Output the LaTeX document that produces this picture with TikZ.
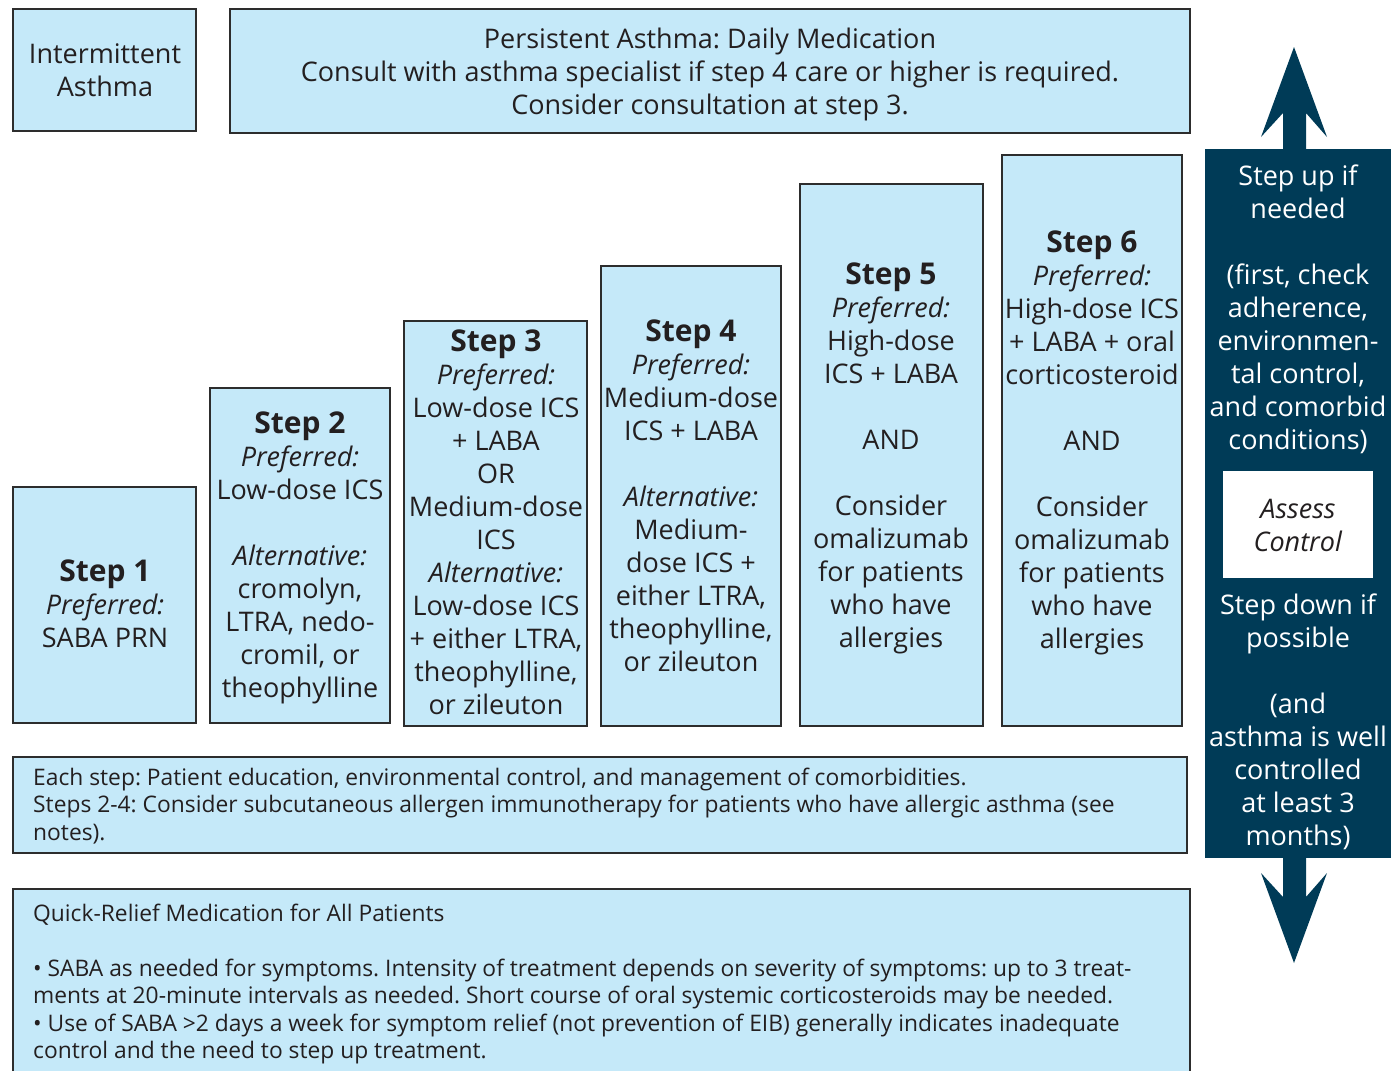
\documentclass[tikz,border=0pt]{standalone}
\usepackage{fontspec}
\setmainfont{Open Sans}
\definecolor{lightb}{RGB}{197,233,249}
\definecolor{darkb}{RGB}{0,59,87}
\definecolor{bordc}{RGB}{45,45,45}
\definecolor{textc}{RGB}{35,31,32}
\newcommand{\mystra}{\rule{0pt}{21pt}}
\newcommand{\mystrb}{\rule{0pt}{23pt}}
\newcommand{\mystrc}{\rule{0pt}{18pt}}
\newcommand{\ttl}[1]{\mystrb{\bfseries\fontsize{30}{33}\selectfont #1}}
\tikzset{
  box/.style={draw=bordc, line width=2pt, fill=lightb, inner sep=0pt, outer sep=0pt, anchor=north west},
  txt/.style={align=center, inner sep=0pt, anchor=north, text=textc, font={\fontsize{27}{33}\selectfont}},
  wtxt/.style={txt, text=white},
  smalltxt/.style={align=left, inner sep=0pt, anchor=north west, text=textc, font={\fontsize{22.8}{27.5}\selectfont}},
}
\begin{document}
\frenchspacing
\begin{tikzpicture}[x=1pt,y=-1pt]
\useasboundingbox (0,0) rectangle (1393,1071);
% boxes
\node[box, minimum width=183pt, minimum height=122pt] (inter) at (13,9) {};
\node[box, minimum width=960pt, minimum height=124pt] (pers) at (230,9) {};
\node[box, minimum width=183pt, minimum height=236pt] (s1) at (13,487) {};
\node[box, minimum width=180pt, minimum height=335pt] (s2) at (210,388) {};
\node[box, minimum width=183pt, minimum height=405pt] (s3) at (404,321) {};
\node[box, minimum width=180pt, minimum height=460pt] (s4) at (601,266) {};
\node[box, minimum width=183pt, minimum height=542pt] (s5) at (800,184) {};
\node[box, minimum width=180pt, minimum height=571pt] (s6) at (1002,155) {};
\node[box, minimum width=1174pt, minimum height=96pt] (each) at (13,757) {};
\node[box, minimum width=1177pt, minimum height=200pt] (quick) at (13,889) {};
% right panel
\node[fill=darkb, inner sep=0pt, outer sep=0pt, anchor=north west, minimum width=186pt, minimum height=709pt] (panel) at (1205,149) {};
\node[fill=white, inner sep=0pt, outer sep=0pt, anchor=north west, minimum width=150pt, minimum height=107pt] (assess) at (1223,471) {};
\fill[darkb] (1283,149) -- (1283,113) -- (1261,137) -- (1294,47) -- (1327,137) -- (1306,113) -- (1306,149) -- cycle;
\fill[darkb] (1283,858) -- (1283,897) -- (1261,873) -- (1294,963) -- (1327,873) -- (1306,897) -- (1306,858) -- cycle;
% texts
\node[txt] (interT) at (105,42) {\mystra Intermittent\\Asthma};
\node[txt] (persT) at (710,27) {\mystra Persistent Asthma: Daily Medication\\Consult with asthma specialist if step 4 care or higher is required.\\Consider consultation at step 3.};
\node[txt] (s1T) at (105,558) {\ttl{Step 1}\\\textit{Preferred:}\\SABA PRN};
\node[txt] (s2T) at (300,410) {\ttl{Step 2}\\\textit{Preferred:}\\Low-dose ICS\\[33pt]\textit{Alternative:}\\cromolyn,\\LTRA, nedo-\\cromil, or\\theophylline};
\node[txt] (s3T) at (496,328) {\ttl{Step 3}\\\textit{Preferred:}\\Low-dose ICS\\+ LABA\\OR\\Medium-dose\\ICS\\\textit{Alternative:}\\Low-dose ICS\\+ either LTRA,\\theophylline,\\or zileuton};
\node[txt] (s4T) at (691,318) {\ttl{Step 4}\\\textit{Preferred:}\\Medium-dose\\ICS + LABA\\[33pt]\textit{Alternative:}\\Medium-\\dose ICS +\\either LTRA,\\theophylline,\\or zileuton};
\node[txt] (s5T) at (891,261) {\ttl{Step 5}\\\textit{Preferred:}\\High-dose\\ICS + LABA\\[33pt]AND\\[33pt]Consider\\omalizumab\\for patients\\who have\\allergies};
\node[txt] (s6T) at (1092,229) {\ttl{Step 6}\\\textit{Preferred:}\\High-dose ICS\\+ LABA + oral\\corticosteroid\\[33pt]AND\\[33pt]Consider\\omalizumab\\for patients\\who have\\allergies};
\node[wtxt] (upT) at (1298,164) {\mystra Step up if\\needed\\[33pt](first, check\\adherence,\\environmen-\\tal control,\\and comorbid\\conditions)};
\node[txt] (assT) at (1298,497) {\mystra\textit{Assess}\\\textit{Control}};
\node[wtxt] (downT) at (1298,593) {\mystra Step down if\\possible\\[33pt](and\\asthma is well\\controlled\\at least 3\\months)};
\node[smalltxt] (eachT) at (33,767) {\mystrc Each step: Patient education, environmental control, and management of comorbidities.\\Steps 2-4: Consider subcutaneous allergen immunotherapy for patients who have allergic asthma (see\\notes).};
\node[smalltxt] (quickT) at (33,903) {\mystrc Quick-Relief Medication for All Patients\\[27.5pt]\textbullet{} SABA as needed for symptoms. Intensity of treatment depends on severity of symptoms: up to 3 treat-\\ments at 20-minute intervals as needed. Short course of oral systemic corticosteroids may be needed.\\\textbullet{} Use of SABA >2 days a week for symptom relief (not prevention of EIB) generally indicates inadequate\\control and the need to step up treatment.};
\end{tikzpicture}
\end{document}
